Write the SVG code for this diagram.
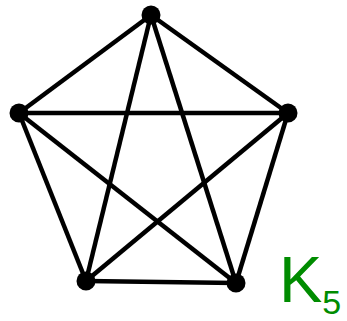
<svg xmlns="http://www.w3.org/2000/svg" width="347" height="321" viewBox="0 0 347 321">
<style>
.e{stroke:#000;stroke-width:4.5;fill:none}
.n{fill:#000}
.t{font-family:"Liberation Sans",Arial,sans-serif;fill:#008c00}
</style>
<rect width="347" height="321" fill="#fff"/>
<g id="edges">
<line class="e" x1="151" y1="15" x2="19" y2="113"/>
<line class="e" x1="151" y1="15" x2="288" y2="113"/>
<line class="e" x1="151" y1="15" x2="86" y2="281"/>
<line class="e" x1="151" y1="15" x2="236" y2="283"/>
<line class="e" x1="19" y1="113" x2="288" y2="113"/>
<line class="e" x1="19" y1="113" x2="86" y2="281"/>
<line class="e" x1="19" y1="113" x2="236" y2="283"/>
<line class="e" x1="288" y1="113" x2="86" y2="281"/>
<line class="e" x1="288" y1="113" x2="236" y2="283"/>
<line class="e" x1="86" y1="281" x2="236" y2="283"/>
</g>
<g id="n1"><circle class="n" cx="151" cy="15" r="9.5"/></g>
<g id="n2"><circle class="n" cx="19" cy="113" r="9.5"/></g>
<g id="n3"><circle class="n" cx="288" cy="113" r="9.5"/></g>
<g id="n4"><circle class="n" cx="86" cy="281" r="9.5"/></g>
<g id="n5"><circle class="n" cx="236" cy="283" r="9.5"/></g>
<g id="label"><text class="t" x="279" y="302" font-size="65">K<tspan font-size="34" dy="12">5</tspan></text></g>
</svg>
